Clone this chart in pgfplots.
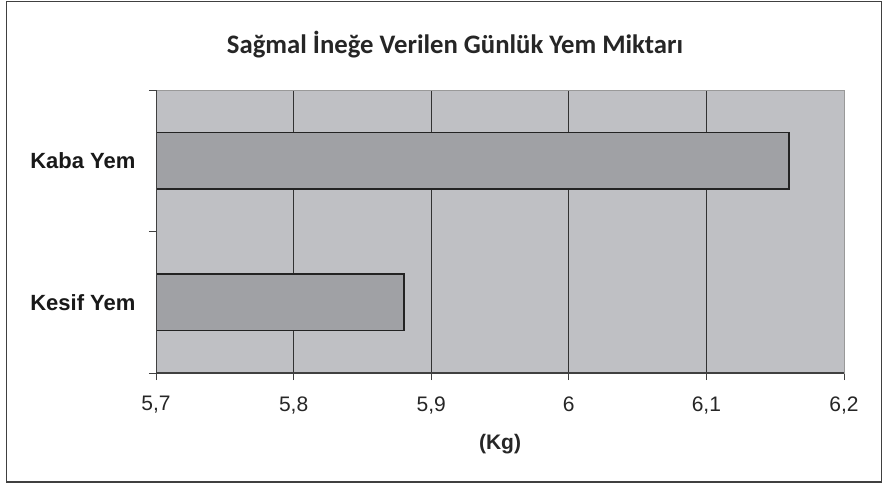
\documentclass[border=0pt]{standalone}
\usepackage{fontspec}
\setmainfont{Liberation Sans}
\newfontfamily\titlefont{Carlito}
\usepackage{pgfplots}
\pgfplotsset{compat=1.18}
\definecolor{plotbg}{RGB}{191,192,196}
\definecolor{barc}{RGB}{160,161,165}
\definecolor{barb}{RGB}{35,35,35}
\definecolor{gridc}{RGB}{50,50,50}
\begin{document}
\begin{tikzpicture}[x=1pt,y=1pt]
\path[use as bounding box] (0,0) rectangle (883,483);
\fill[white] (0,0) rectangle (883,483);
\draw[line width=1.5pt, draw=black!75] (6.5,1.2) rectangle (881.5,481.5);
\node[font=\titlefont\bfseries\fontsize{26.7}{26.7}\selectfont, text=black!85] at (455,438) {Sağmal İneğe Verilen Günlük Yem Miktarı};
\begin{axis}[
  at={(156pt,110pt)}, anchor=south west,
  scale only axis, width=688pt, height=283pt,
  xmin=5.7, xmax=6.2, ymin=-0.5, ymax=1.5,
  xbar, bar width=0.4,
  axis background/.style={fill=plotbg},
  axis line style={draw=black!40, line width=1pt},
  xmajorgrids, grid style={draw=gridc, line width=1pt},
  xtick={5.7,5.8,5.9,6,6.1,6.2},
  ytick={-0.5,0.5,1.5}, yticklabels={},
  tick pos=left, tick align=outside, major tick length=7pt,
  tick style={draw=black!75, line width=1pt},
  x tick label style={font=\fontsize{21}{21}\selectfont, yshift=-13pt, text=black!85},
  /pgf/number format/.cd, use comma, fixed, precision=1, assume math mode=true,
  /pgfplots/.cd,
  extra y ticks={0,1},
  extra y tick labels={\textbf{Kesif Yem},\textbf{Kaba Yem}},
  extra y tick style={major tick length=0pt, tick label style={font=\fontsize{22}{22}\selectfont, xshift=-17pt, text=black!90}},
  xlabel={\textbf{(Kg)}},
  xlabel style={font=\fontsize{21}{21}\selectfont, yshift=-14pt, text=black!85},
  clip=true,
]
\addplot[fill=barc, draw=barb, line width=1.8pt] coordinates {(5.88,0) (6.16,1)};
\draw[draw=black!75, line width=1.2pt] (rel axis cs:0,1) -- (rel axis cs:0,0) -- (rel axis cs:1,0);
\end{axis}
\end{tikzpicture}
\end{document}
